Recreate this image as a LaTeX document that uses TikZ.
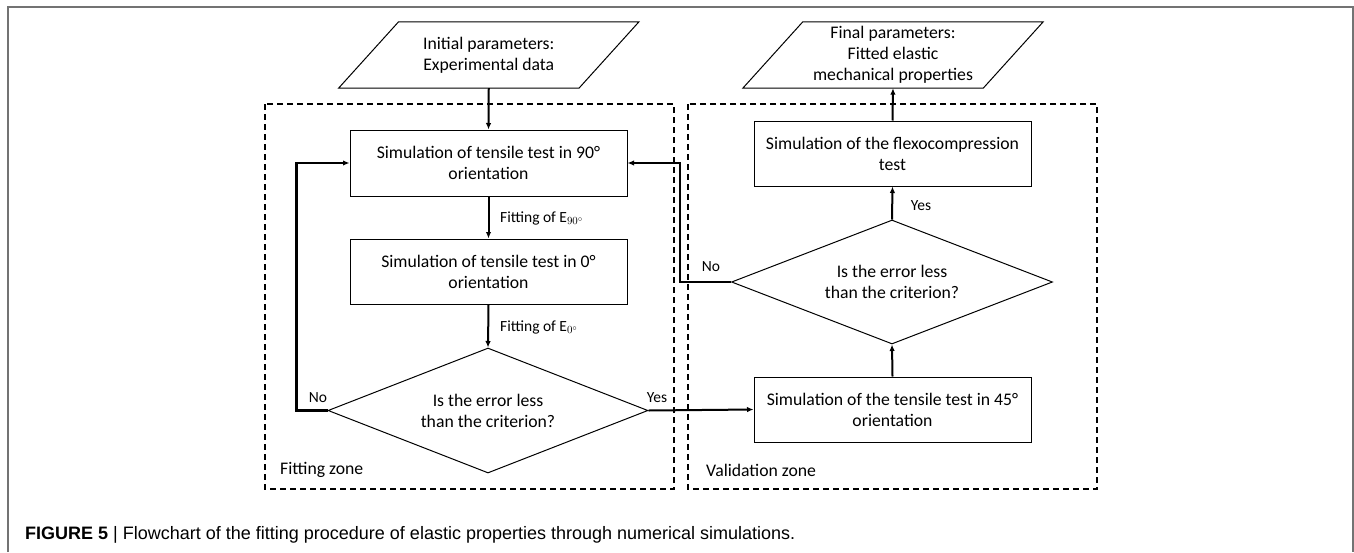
\documentclass[tikz,border=0pt]{standalone}
\usepackage{fix-cm}
\usepackage{fontspec}
\setmainfont{Carlito}
\newfontfamily\capfont{Liberation Sans}
\usetikzlibrary{shapes.geometric,arrows.meta,calc}
\begin{document}
\begin{tikzpicture}[x=1pt,y=-1pt,
  font=\fontsize{17.7}{21}\selectfont,
  procbox/.style={draw, line width=1pt, minimum width=277pt, minimum height=65pt, align=center, inner sep=0pt},
  decbox/.style={draw, diamond, aspect=2.6, line width=1pt, minimum width=321pt, minimum height=124pt, align=center, inner sep=0pt},
  iobox/.style={minimum width=240pt, minimum height=66pt, align=center, inner sep=0pt},
  arr/.style={line width=2pt, -{Latex[length=6.5pt,width=5.5pt]}},
  backline/.style={line width=2.8pt, -{Latex[length=6.5pt,width=5.5pt]}},
  lbl/.style={font=\fontsize{15.5}{18}\selectfont, inner sep=0pt},
  zone/.style={draw, line width=1.4pt, dash pattern=on 6pt off 4pt},
  zonelbl/.style={anchor=west, inner sep=0pt},
  pageframe/.style={draw=black!55, line width=2pt}
]
\useasboundingbox (0,0) rectangle (1354,552);
% page frame
\draw[pageframe] (8,552) -- (8,6.5) -- (1353,6.5) -- (1353,552);

% zones
\draw[zone] (265,104) rectangle (674,489);
\draw[zone] (688,104) rectangle (1097,489);
\node[zonelbl] (fz) at (280,470) {Fitting zone};
\node[zonelbl] (vz) at (706,470) {Validation zone};

% input / output
\node[iobox] (init) at (488.75,55) {Initial parameters:\\Experimental data};
\draw[line width=1pt] ($(init.north west)+(30,0)$) -- ($(init.north east)+(30,0)$) -- ($(init.south east)+(-30,0)$) -- ($(init.south west)+(-30,0)$) -- cycle;
\node[iobox] (final) at (893,55) {Final parameters:\\Fitted elastic\\mechanical properties};
\draw[line width=1pt] ($(final.north west)+(30,0)$) -- ($(final.north east)+(30,0)$) -- ($(final.south east)+(-30,0)$) -- ($(final.south west)+(-30,0)$) -- cycle;

% process boxes
\node[procbox, minimum height=66pt] (b90) at (488.5,163) {Simulation of tensile test in 90°\\orientation};
\node[procbox] (b0) at (488.5,271.5) {Simulation of tensile test in 0°\\orientation};
\node[procbox] (bflex) at (892.5,153.5) {Simulation of the flexocompression\\test};
\node[procbox] (b45) at (892.5,409.5) {Simulation of the tensile test in 45°\\orientation};

% decisions
\node[decbox, minimum height=125pt, minimum width=320pt] (d1) at (488,410.5) {Is the error less\\than the criterion?};
\node[decbox] (d2) at (892,282) {Is the error less\\than the criterion?};

% connectors
\draw[arr] (init.south) -- (b90.north);
\draw[arr] (b90.south) -- (b0.north);
\draw[arr] (b0.south) -- (d1.north);
\draw[arr] (d1.east) -- (b45.west);
\draw[arr] (b45.north) -- (d2.south);
\draw[arr] (d2.north) -- (bflex.south);
\draw[arr] (bflex.north) -- (final.south);
\draw[backline] (d1.west) -- ($(d1.west)+(-31,0)$) |- (b90.west);
\draw[backline] (d2.west) -- ($(d2.west)+(-51,0)$) |- (b90.east);

% labels
\node[lbl, anchor=west] (l90) at (500,218) {Fitting of $\mathrm{E}_{90^\circ}$};
\node[lbl, anchor=west] (l0) at (500,327) {Fitting of $\mathrm{E}_{0^\circ}$};
\node[lbl] (no1) at (318,398) {No};
\node[lbl] (yes1) at (657,398) {Yes};
\node[lbl] (no2) at (711,267) {No};
\node[lbl] (yes2) at (921,206) {Yes};

% caption
\node[anchor=west, inner sep=0pt, font=\capfont\fontsize{18}{21}\selectfont] (cap) at (25,535) {\textbf{FIGURE 5} | Flowchart of the fitting procedure of elastic properties through numerical simulations.};
\end{tikzpicture}
\end{document}
